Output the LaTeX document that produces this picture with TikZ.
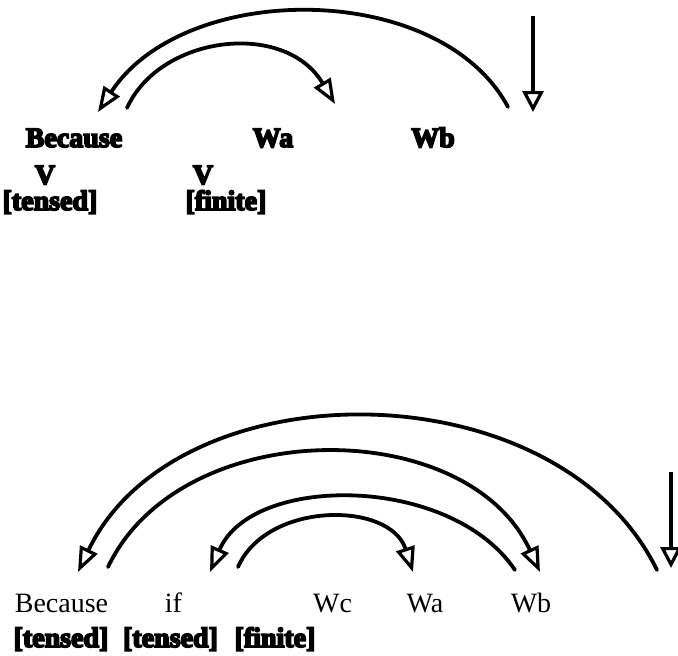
\documentclass[tikz,border=0pt]{standalone}
\usepackage{fontspec}
\setmainfont{Liberation Serif}
\newfontfamily\heavy{Liberation Serif}[BoldFeatures={FakeBold=6}]
\usetikzlibrary{arrows.meta}
\begin{document}
\begin{tikzpicture}[x=1pt,y=-1pt,
  word/.style={anchor=base, inner sep=0pt, font=\fontsize{28}{30}\selectfont},
  hword/.style={anchor=base, inner sep=0pt, font=\heavy\bfseries\fontsize{28}{30}\selectfont},
  arc/.style={line width=3.8pt, line cap=round, -{Triangle[open, length=25pt, width=19pt, line width=3.2pt]}},
  vline/.style={line width=3.4pt, -{Triangle[open, length=21pt, width=21pt, line width=3.2pt]}}]
\useasboundingbox (0,0) rectangle (678,656);
% ---- top diagram ----
\node[hword] (tBecause) at (74,147) {Because};
\node[hword] (tWa) at (273,147) {Wa};
\node[hword] (tWb) at (433,147) {Wb};
\node[hword] (tV1) at (45,184) {V};
\node[hword] (tV2) at (203,184) {V};
\node[hword] (tTensed) at (50,210) {[tensed]};
\node[hword] (tFinite) at (226,210) {[finite]};
\coordinate (tv1) at (533,16);
\coordinate (tv2) at (533,112);
\coordinate (to1) at (508,107);
\coordinate (to2) at (98,112);
\coordinate (ti1) at (127,108);
\coordinate (ti2) at (335,104);
\draw[vline] (tv1) -- (tv2);
\draw[arc] (to1) .. controls (440,-20) and (185,-20) .. (to2);
\draw[arc] (ti1) .. controls (160,35) and (285,20) .. (ti2);
% ---- bottom diagram ----
\node[word] (bBecause) at (61.5,612) {Because};
\node[word] (bIf) at (173.5,612) {if};
\node[word] (bWc) at (332.5,612) {Wc};
\node[word] (bWa) at (425,612) {Wa};
\node[word] (bWb) at (531,612) {Wb};
\node[hword] (bTensed1) at (61,647) {[tensed]};
\node[hword] (bTensed2) at (170.5,647) {[tensed]};
\node[hword] (bFinite) at (275,647) {[finite]};
\coordinate (bv1) at (671,472);
\coordinate (bv2) at (671,568);
\coordinate (bo1) at (657,570);
\coordinate (bo2) at (78,572);
\coordinate (bs1) at (108,567);
\coordinate (bs2) at (540,572);
\coordinate (bt1) at (515,570);
\coordinate (bt2) at (210,572);
\coordinate (bf1) at (238,567);
\coordinate (bf2) at (413,572);
\draw[vline] (bv1) -- (bv2);
\draw[arc] (bo1) .. controls (557,366) and (177,366) .. (bo2);
\draw[arc] (bs1) .. controls (181,414) and (467,414) .. (bs2);
\draw[arc] (bt1) .. controls (450,474) and (252,474) .. (bt2);
\draw[arc] (bf1) .. controls (267,501) and (390,501) .. (bf2);
\end{tikzpicture}
\end{document}
